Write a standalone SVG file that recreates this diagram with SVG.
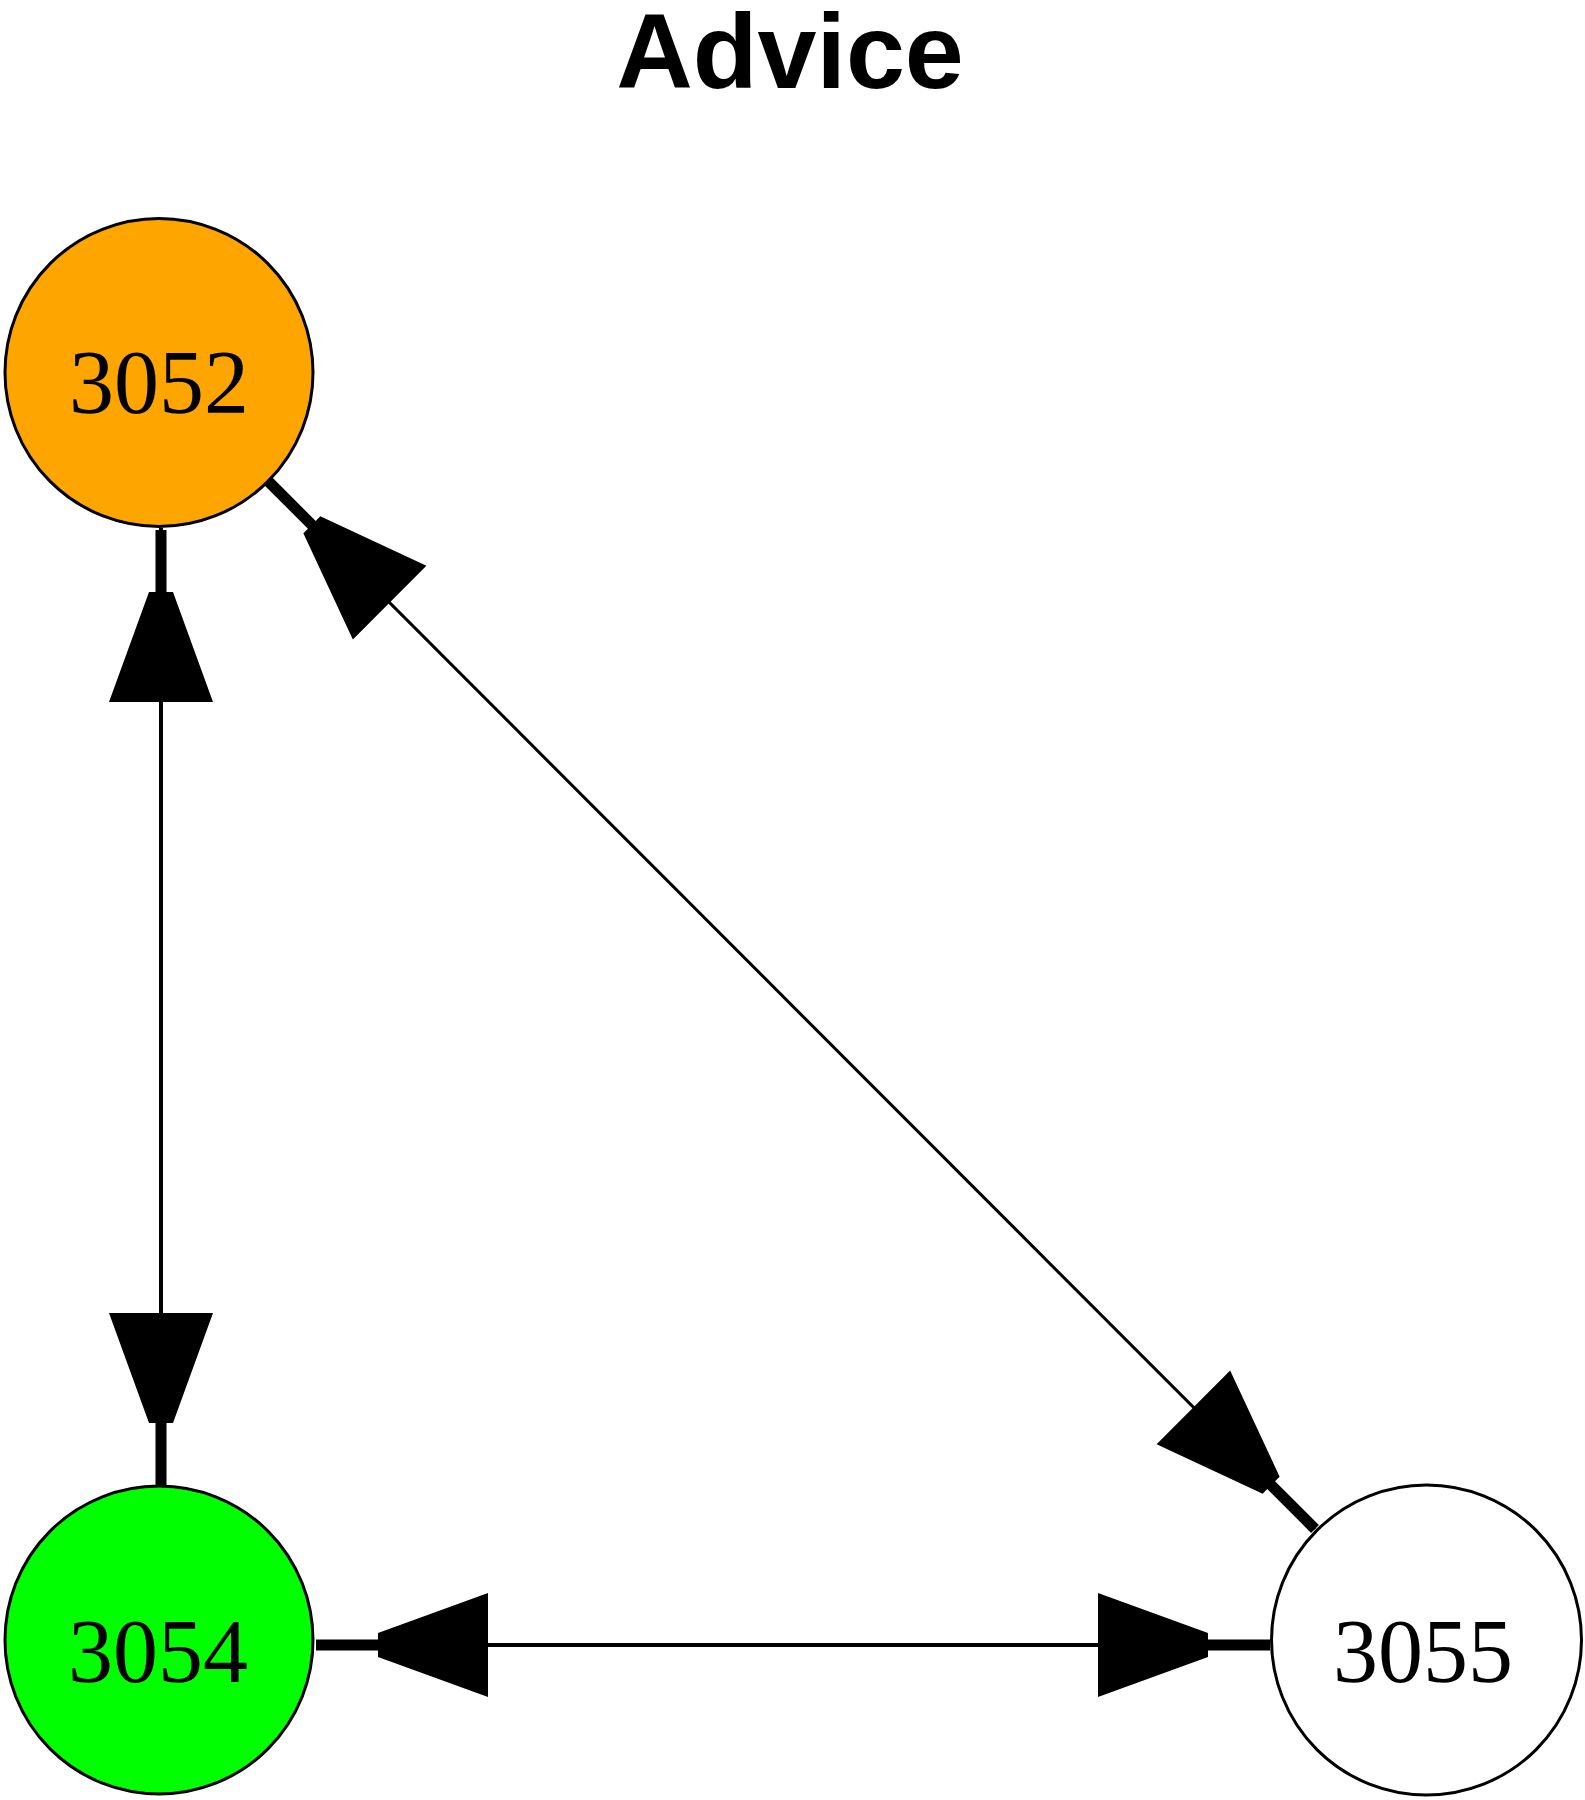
<svg xmlns="http://www.w3.org/2000/svg" xmlns:xlink="http://www.w3.org/1999/xlink" width="1585" height="1800" viewBox="0 0 1585 1800">
<style>
.node circle{stroke:#000;stroke-width:3}
.node text{font-family:"Liberation Serif","Times New Roman",serif;font-size:90px;fill:#000;text-anchor:middle}
.edge{stroke:#000;fill:none}
.title{font-family:"Liberation Sans",Arial,sans-serif;font-weight:bold;font-size:106px;fill:#000;text-anchor:middle}
</style>
<defs>
<path id="ah" d="M0,-5.5 L-62,-5.5 L-62,-12 L-172,-52 L-172,52 L-62,12 L-62,5.5 L0,5.5 Z" fill="#000"/>
</defs>
<rect width="1585" height="1800" fill="#fff"/>
<text class="title" x="790" y="88">Advice</text>
<g id="connectors">
<line class="edge" x1="161" y1="528" x2="161" y2="1485" stroke-width="4"/>
<line class="edge" x1="316" y1="1645" x2="1270" y2="1645" stroke-width="4"/>
<line class="edge" x1="268" y1="481" x2="1315" y2="1529" stroke-width="3"/>
<use xlink:href="#ah" transform="translate(161,530) rotate(-90)"/>
<use xlink:href="#ah" transform="translate(161,1485) rotate(90)"/>
<use xlink:href="#ah" transform="translate(316,1645) rotate(180)"/>
<use xlink:href="#ah" transform="translate(1270,1645)"/>
<use xlink:href="#ah" transform="translate(268,481) rotate(225)"/>
<use xlink:href="#ah" transform="translate(1315,1529) rotate(45)"/>
</g>
<g id="node-3052" class="node">
<circle cx="159" cy="372.5" r="154" fill="#FFA500"/>
<text x="159" y="413">3052</text>
</g>
<g id="node-3054" class="node">
<circle cx="159" cy="1640" r="154" fill="#00FF00"/>
<text x="158" y="1682">3054</text>
</g>
<g id="node-3055" class="node">
<circle cx="1426.5" cy="1640" r="155" fill="#FFFFFF"/>
<text x="1423" y="1682">3055</text>
</g>
</svg>
